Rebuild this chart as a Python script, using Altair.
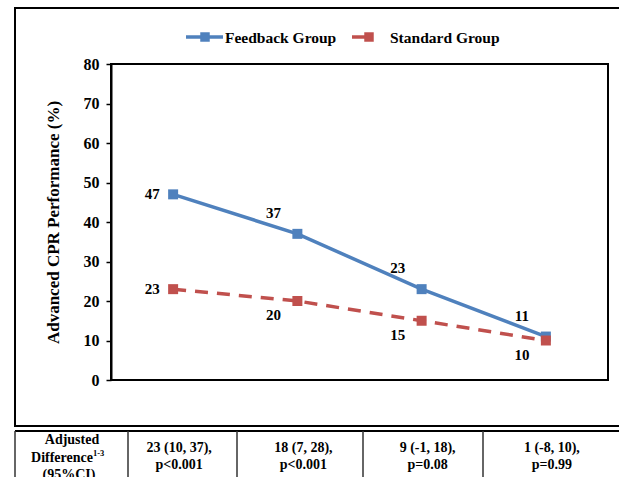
import altair as alt
import pandas as pd

# Chart data
weeks = ["Week - 0", "Week - 10", "Week - 28", "Week - 52"]
feedback = [47, 37, 23, 11]
standard = [23, 20, 15, 10]
groups = ["Feedback Group", "Standard Group"]
colors = ["#4F81BD", "#C0504D"]

# Table row under the chart
diff_ci = ["23 (10, 37),", "18 (7, 28),", "9 (-1, 18),", "1 (-8, 10),"]
p_vals = ["p<0.001", "p<0.001", "p=0.08", "p=0.99"]

FONT = "Liberation Serif"

df = pd.DataFrame({
    "week": weeks * 2,
    "value": feedback + standard,
    "group": [groups[0]] * len(weeks) + [groups[1]] * len(weeks),
    "idx": list(range(len(weeks))) * 2,
})
table = pd.DataFrame({"week": weeks, "diff": diff_ci, "p": p_vals})
one = pd.DataFrame({"a": [0]})

x_enc = alt.X(
    "week:N", sort=weeks, scale=alt.Scale(padding=0.5),
    axis=alt.Axis(title=None, ticks=False, tickSize=0, labelPadding=9,
                  labelFont=FONT, labelFontSize=16, labelFontWeight="bold",
                  labelColor="black", labelAngle=0,
                  domainColor="black", domainWidth=2),
)
y_enc = alt.Y(
    "value:Q", scale=alt.Scale(domain=[0, 80], nice=False),
    axis=alt.Axis(values=list(range(0, 81, 10)), grid=False,
                  tickSize=5, tickColor="black", tickWidth=1.5,
                  labelPadding=7, labelFont=FONT, labelFontSize=16,
                  labelFontWeight="bold", labelColor="black",
                  domainColor="black", domainWidth=2,
                  title="Advanced CPR Performance (%)",
                  titleFont=FONT, titleFontSize=17, titleFontWeight="bold",
                  titleColor="black", titleAngle=-90, titleX=-58, titleY=158,
                  titleAlign="center", titleBaseline="middle"),
)
color_enc = alt.Color("group:N", scale=alt.Scale(domain=groups, range=colors), legend=None)

base = alt.Chart(df).encode(x=x_enc, y=y_enc, color=color_enc)
is_fb = alt.datum.group == groups[0]
is_std = alt.datum.group == groups[1]

line_fb = base.transform_filter(is_fb).mark_line(strokeWidth=3.5)
line_std = base.transform_filter(is_std).mark_line(strokeWidth=3.5, strokeDash=[13, 9])
pts = base.mark_point(shape="square", filled=True, size=100, opacity=1)

lbl = dict(font=FONT, fontSize=15, fontWeight="bold", color="black", baseline="middle", align="center")
txt = alt.Chart(df).encode(x=x_enc, y=y_enc, text="value:Q")
lbl_first = txt.transform_filter(alt.datum.idx == 0).mark_text(dx=-21, **lbl)
lbl_fb = txt.transform_filter(is_fb & (alt.datum.idx > 0)).mark_text(dx=-24, dy=-21, **lbl)
lbl_std = txt.transform_filter(is_std & (alt.datum.idx > 0)).mark_text(dx=-24, dy=14, **lbl)

# Legend drawn by hand above the plot
legend_fb_line = alt.Chart(one).mark_rule(color=colors[0], strokeWidth=3.5).encode(
    x=alt.value(75), x2=alt.value(112), y=alt.value(-27))
legend_fb_pt = alt.Chart(one).mark_point(shape="square", filled=True, size=90, opacity=1, color=colors[0]).encode(
    x=alt.value(94), y=alt.value(-27))
legend_fb_txt = alt.Chart(one).mark_text(text=groups[0], font=FONT, fontSize=15.5, fontWeight="bold",
                                         color="black", align="left", baseline="middle").encode(
    x=alt.value(114), y=alt.value(-26))
legend_std_line = alt.Chart(one).mark_rule(color=colors[1], strokeWidth=3.5).encode(
    x=alt.value(241), x2=alt.value(262), y=alt.value(-27))
legend_std_pt = alt.Chart(one).mark_point(shape="square", filled=True, size=90, opacity=1, color=colors[1]).encode(
    x=alt.value(258), y=alt.value(-27))
legend_std_txt = alt.Chart(one).mark_text(text=groups[1], font=FONT, fontSize=15.5, fontWeight="bold",
                                          color="black", align="left", baseline="middle").encode(
    x=alt.value(279), y=alt.value(-26))

# Outer frame around the chart
frame = alt.Chart(one).mark_rect(fill="transparent", stroke="black", strokeWidth=2).encode(
    x=alt.value(-96), x2=alt.value(520), y=alt.value(-56), y2=alt.value(362))

# Table grid
table_top = alt.Chart(one).mark_rule(color="black", strokeWidth=2).encode(
    x=alt.value(-96), x2=alt.value(520), y=alt.value(367))
col_edges = pd.DataFrame({"xpos": [-96, 17, 126, 252, 372]})
table_cols = alt.Chart(col_edges).mark_rule(color="#333333", strokeWidth=1.5).encode(
    x=alt.X("xpos:Q", scale=None), y=alt.value(367), y2=alt.value(430))

cell = dict(font=FONT, fontSize=14, fontWeight="bold", color="black", baseline="middle", align="center")
tx = alt.X("week:N", sort=weeks, scale=alt.Scale(padding=0.5), axis=None)
table_diff = alt.Chart(table).mark_text(dx=6, **cell).encode(x=tx, y=alt.value(384), text="diff:N")
table_p = alt.Chart(table).mark_text(dx=6, **cell).encode(x=tx, y=alt.value(401), text="p:N")

hdr1 = alt.Chart(one).mark_text(text="Adjusted", **cell).encode(x=alt.value(-39), y=alt.value(376))
hdr2 = alt.Chart(one).mark_text(text="Difference", **cell).encode(x=alt.value(-49), y=alt.value(394))
hdr2_sup = alt.Chart(one).mark_text(text="1-3", font=FONT, fontSize=8.5, fontWeight="bold", color="black",
                                    align="left", baseline="middle").encode(x=alt.value(-18), y=alt.value(388.5))
hdr3 = alt.Chart(one).mark_text(text="(95%CI)", **cell).encode(x=alt.value(-42), y=alt.value(411))

chart = alt.layer(
    frame, table_top, table_cols,
    line_fb, line_std, pts, lbl_first, lbl_fb, lbl_std,
    legend_fb_line, legend_fb_pt, legend_fb_txt,
    legend_std_line, legend_std_pt, legend_std_txt,
    table_diff, table_p, hdr1, hdr2, hdr2_sup, hdr3,
).properties(
    width=497, height=316,
    autosize=alt.AutoSizeParams(type="none"),
    padding={"left": 111, "top": 64, "right": 11, "bottom": 97},
    background="white",
).configure_view(stroke="black", strokeWidth=2)

chart.save("out.html", embed_options={"renderer": "svg", "actions": False})
